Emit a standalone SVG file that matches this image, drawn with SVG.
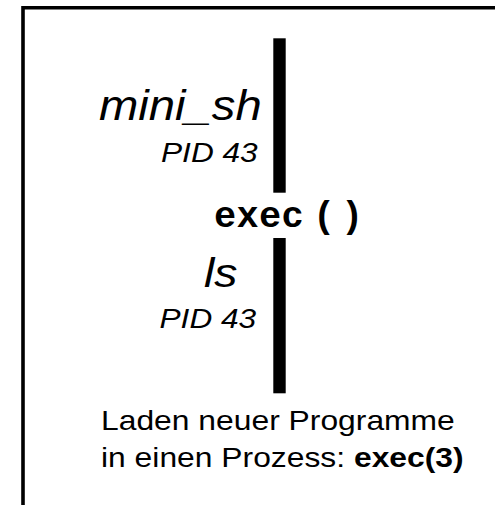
<svg xmlns="http://www.w3.org/2000/svg" width="495" height="505" viewBox="0 0 495 505">
<style>
.sans{font-family:"Liberation Sans",Arial,sans-serif;fill:#000}
.it{font-style:italic}
.mono{font-family:"Liberation Mono","Courier New",monospace;font-weight:bold;fill:#000}
.bar{fill:#000}
</style>
<rect width="495" height="505" fill="#fff"/>
<g id="frame">
<polyline points="23,505 23,7.8 495,7.8" fill="none" stroke="#000" stroke-width="3.6"/>
</g>
<g id="connectors">
<rect class="bar" x="273.3" y="38.3" width="12.4" height="154.4"/>
<rect class="bar" x="273.3" y="238" width="12.4" height="155.3"/>
</g>
<g id="mini_sh" transform="translate(99,120) scale(1.125,1)">
<text class="sans it" font-size="42">mini_sh</text>
</g>
<g id="pid1" transform="translate(161,162) scale(1.13,1)">
<text class="sans it" font-size="28">PID 43</text>
</g>
<g id="exec" transform="translate(0,227) scale(1,1)">
<text class="mono" font-size="37" x="214 236.5 259 281.5 313 341">exec()</text>
</g>
<g id="ls" transform="translate(204,287) scale(1.13,1)">
<text class="sans it" font-size="41">ls</text>
</g>
<g id="pid2" transform="translate(159.5,328) scale(1.13,1)">
<text class="sans it" font-size="28">PID 43</text>
</g>
<g id="caption" transform="translate(101,0) scale(1.137,1)">
<text class="sans" font-size="28" x="0" y="430">Laden neuer Programme</text>
<text class="sans" font-size="28" x="0" y="466.7">in einen Prozess: <tspan font-weight="bold">exec(3)</tspan></text>
</g>
</svg>
